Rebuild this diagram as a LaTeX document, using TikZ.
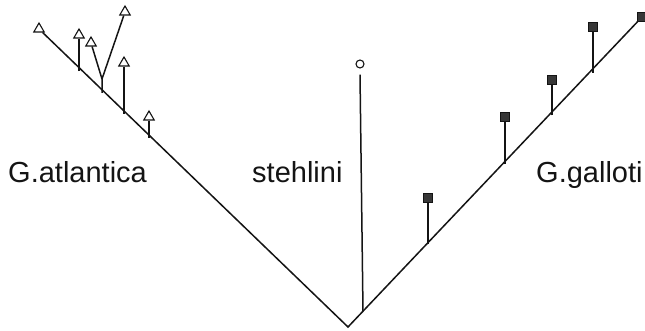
\documentclass[tikz,border=0pt]{standalone}
\usepackage{fontspec}
\setmainfont{Liberation Sans}
\usetikzlibrary{shapes.geometric}
\definecolor{ink}{RGB}{20,20,20}
\definecolor{sqfill}{RGB}{55,55,55}
\begin{document}
\begin{tikzpicture}[x=1pt,y=-1pt,
  branch/.style={draw=ink,line width=1.5pt},
  tri/.style={regular polygon,regular polygon sides=3,draw=ink,fill=white,line width=1.1pt,inner sep=0pt,minimum size=12pt},
  sq/.style={rectangle,draw=ink,fill=sqfill,line width=0.6pt,inner sep=0pt,minimum size=8.5pt},
  circ/.style={circle,draw=ink,fill=white,line width=1.1pt,inner sep=0pt,minimum size=8pt},
  lab/.style={font=\fontsize{29}{34}\selectfont,text=ink,anchor=base west,inner sep=0pt}]
\useasboundingbox (0,0) rectangle (645,331);
\fill[white] (0,0) rectangle (645,331);
% root and branch points
\coordinate (R) at (348,327);
\coordinate (B1) at (79,71.1);
\coordinate (B2) at (102,92.9);
\coordinate (F) at (102,79);
\coordinate (B4) at (124,113.9);
\coordinate (B5) at (149,137.7);
\coordinate (C) at (363,311.4);
\coordinate (RA) at (428,244);
\coordinate (RB) at (505,164.1);
\coordinate (RC) at (552,115.4);
\coordinate (RD) at (593,72.8);
% terminals
\node[tri] (T0) at (39,29) {};
\node[tri] (T1) at (79,35) {};
\node[tri] (T2) at (91,43) {};
\node[tri] (T3) at (125,12) {};
\node[tri] (T4) at (124,63) {};
\node[tri] (T5) at (149,117) {};
\node[circ] (S) at (360,64) {};
\node[sq] (SA) at (428,198) {};
\node[sq] (SB) at (505,117) {};
\node[sq] (SC) at (552,80) {};
\node[sq] (SD) at (593,27) {};
\node[sq] (SE) at (642,17) {};
% branches
\draw[branch] (T0) -- (R) -- (SE);
\draw[branch] (B1) -- (T1);
\draw[branch] (B2) -- (F) -- (T2);
\draw[branch] (F) -- (T3);
\draw[branch] (B4) -- (T4);
\draw[branch] (B5) -- (T5);
\draw[branch] (C) -- ([yshift=-6pt]S.south);
\draw[branch] (RA) -- (SA);
\draw[branch] (RB) -- (SB);
\draw[branch] (RC) -- (SC);
\draw[branch] (RD) -- (SD);
% labels
\node[lab] (LA) at (8,183) {G.atlantica};
\node[lab] (LS) at (252,183) {stehlini};
\node[lab] (LG) at (536,183) {G.galloti};
\end{tikzpicture}
\end{document}
